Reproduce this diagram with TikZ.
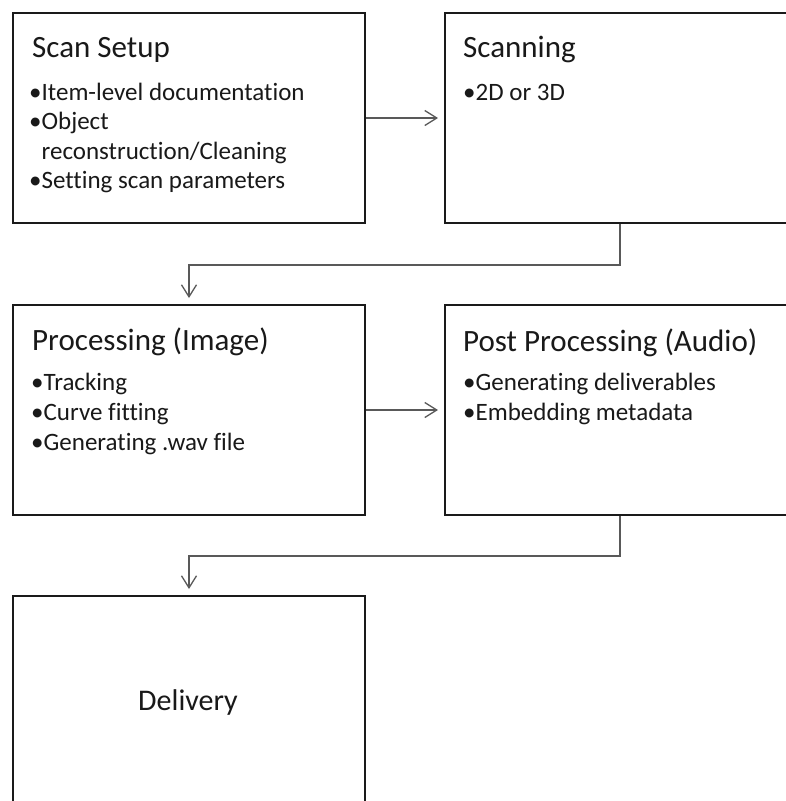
\documentclass[tikz,border=0pt]{standalone}
\usepackage{fontspec}
\setmainfont[Ligatures=NoCommon]{Carlito}
\usetikzlibrary{arrows.meta}
\definecolor{conngray}{HTML}{595959}
\definecolor{boxblack}{HTML}{1A1A1A}
\tikzset{
  stagebox/.style={draw=boxblack, line width=2pt, fill=none, inner sep=0pt, anchor=north west},
  ttl/.style={anchor=base west, inner sep=0pt, font=\fontsize{31}{36}\selectfont, text=black!90},
  bul/.style={anchor=base west, inner sep=0pt, font=\fontsize{25}{30}\selectfont, text=black!90},
  conn/.style={draw=conngray, line width=1.3pt, -{Straight Barb[length=12pt,width=15pt,line width=1.3pt]}, shorten >=6pt},
}
\begin{document}
\begin{tikzpicture}[x=1pt,y=-1pt]
\clip (0,0) rectangle (786,801);
\fill[white] (0,0) rectangle (786,801);
% boxes
\node[stagebox, minimum width=352pt, minimum height=210pt] (setupbox) at (12,12) {};
\node[stagebox, minimum width=360pt, minimum height=210pt] (scanbox) at (444,12) {};
\node[stagebox, minimum width=352pt, minimum height=210pt] (procbox) at (12,304) {};
\node[stagebox, minimum width=360pt, minimum height=210pt] (postbox) at (444,304) {};
\node[stagebox, minimum width=352pt, minimum height=240pt] (delivbox) at (12,595) {};
% texts: Scan Setup
\node[ttl] (t1) at (32,57) {Scan Setup};
\node[bul] (b11) at (29,100) {•Item-level documentation};
\node[bul] (b12) at (29,129.5) {•Object};
\node[bul] (b13) at (29,159) {\phantom{•}reconstruction/Cleaning};
\node[bul] (b14) at (29,188.5) {•Setting scan parameters};
% Scanning
\node[ttl] (t2) at (463,57) {Scanning};
\node[bul] (b21) at (463,100) {•2D or 3D};
% Processing
\node[ttl] (t3) at (32,350) {Processing (Image)};
\node[bul] (b31) at (31,390) {•Tracking};
\node[bul] (b32) at (31,420) {•Curve fitting};
\node[bul] (b33) at (31,450) {•Generating .wav file};
% Post Processing
\node[ttl] (t4) at (463,351) {Post Processing (Audio)};
\node[bul] (b41) at (463,390) {•Generating deliverables};
\node[bul] (b42) at (463,420) {•Embedding metadata};
% Delivery
\node[anchor=base, inner sep=0pt, font=\fontsize{30}{36}\selectfont, text=black!90] (t5) at (188,710) {Delivery};
% connectors
\draw[conn] (setupbox.east) -- (setupbox.east -| scanbox.west);
\draw[conn] ([xshift=176pt]scanbox.south west) -- ++(0,41) -| (procbox.north);
\draw[conn] (procbox.east) -- (procbox.east -| postbox.west);
\draw[conn] ([xshift=176pt]postbox.south west) -- ++(0,40) -| (delivbox.north);
\end{tikzpicture}
\end{document}
